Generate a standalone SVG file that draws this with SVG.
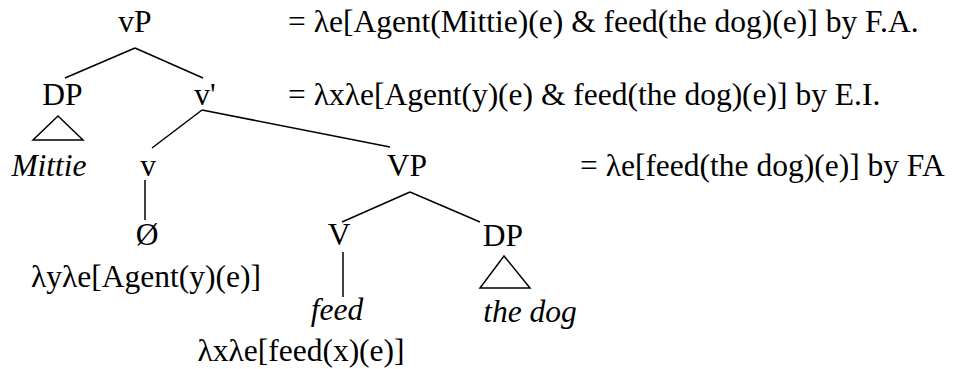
<svg xmlns="http://www.w3.org/2000/svg" width="963" height="369" viewBox="0 0 963 369">
<style>
text{font-family:"Liberation Serif","Times New Roman",serif;font-size:31.5px;fill:#000}
.i{font-style:italic}
.m{text-anchor:middle}
line,polygon{stroke:#000;stroke-width:1.5;fill:none}
</style>
<rect width="963" height="369" fill="#fff"/>
<g id="connectors">
<line x1="135" y1="48" x2="65" y2="78"/>
<line x1="135" y1="48" x2="203" y2="78"/>
<line x1="202" y1="110" x2="152" y2="148"/>
<line x1="202" y1="110" x2="390" y2="147"/>
<line x1="145" y1="180" x2="145" y2="220"/>
<line x1="410" y1="192" x2="342" y2="222"/>
<line x1="410" y1="192" x2="480" y2="222"/>
<line x1="343" y1="252" x2="343" y2="297"/>
</g>
<g id="vP"><text x="135" y="32" class="m">vP</text></g>
<g id="vP-sem"><text x="288" y="32">= λe[Agent(Mittie)(e) &amp; feed(the dog)(e)] by F.A.</text></g>
<g id="DP1"><text x="62.5" y="105" class="m">DP</text><polygon points="58,116 33,140 83,140"/></g>
<g id="Mittie"><text x="49" y="176" class="m i">Mittie</text></g>
<g id="vbar"><text x="205" y="105" class="m">v'</text></g>
<g id="vbar-sem"><text x="288" y="105">= λxλe[Agent(y)(e) &amp; feed(the dog)(e)] by E.I.</text></g>
<g id="v"><text x="148" y="176" class="m">v</text></g>
<g id="VP"><text x="407" y="176" class="m">VP</text></g>
<g id="VP-sem"><text x="580" y="176">= λe[feed(the dog)(e)] by FA</text></g>
<g id="null"><text x="147" y="245" class="m">Ø</text><text x="146" y="287" class="m">λyλe[Agent(y)(e)]</text></g>
<g id="V"><text x="339" y="245" class="m">V</text></g>
<g id="feed"><text x="337" y="320" class="m i">feed</text><text x="301" y="361" class="m">λxλe[feed(x)(e)]</text></g>
<g id="DP2"><text x="503" y="246" class="m">DP</text><polygon points="504,256 480,288 530,288"/></g>
<g id="thedog"><text x="530" y="322" class="m i">the dog</text></g>
</svg>
